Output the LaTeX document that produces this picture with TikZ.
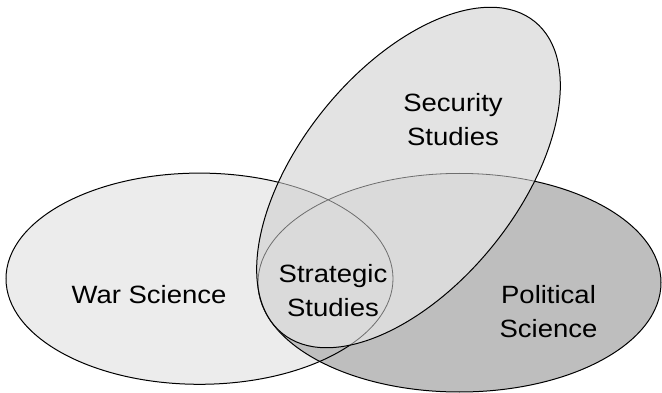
\documentclass[tikz,border=0pt]{standalone}
\usepackage{fontspec}
\setmainfont{Liberation Sans}[FakeStretch=1.1]
\definecolor{warfill}{HTML}{ECECEC}
\definecolor{polfill}{HTML}{BEBEBE}
\definecolor{secfill}{HTML}{E3E3E3}
\definecolor{secover}{HTML}{DADADA}
\definecolor{innerline}{HTML}{6E6E6E}
\begin{document}
\begin{tikzpicture}[x=1pt,y=-1pt,
  lbl/.style={font=\fontsize{25}{34}\selectfont, inner sep=0pt, align=center, text=black},
  outline/.style={draw=black, line width=1pt},
  hidden/.style={draw=innerline, line width=0.8pt},
  secrot/.style={rotate around={51:(408.5,177.5)}}]
\useasboundingbox (0,0) rectangle (662,393);
\def\warshape{(199.5,278.7) ellipse [x radius=193.5, y radius=105.6]}
\def\polshape{(459.5,282.7) ellipse [x radius=201.5, y radius=109.3]}
\def\secshape{(408.5,177.5) ellipse [x radius=200.6, y radius=108.5]}
% war and political
\fill[warfill] \warshape;
\fill[polfill] \polshape;
\draw[outline] \warshape;
\draw[outline] \polshape;
% security on top
\fill[secfill, secrot] \secshape;
\begin{scope}
  \clip[secrot] \secshape;
  \fill[secover] \warshape;
  \fill[secover] \polshape;
  \draw[hidden] \warshape;
  \draw[hidden] \polshape;
\end{scope}
\draw[outline, secrot] \secshape;
% labels
\node[lbl, anchor=base] (war) at (149,303.5) {War Science};
\node[lbl, anchor=north] (sec) at (453,93.5) {Security\\Studies};
\node[lbl, anchor=north] (strat) at (333,263.8) {Strategic\\Studies};
\node[lbl, anchor=north] (pol) at (548.5,285.4) {Political\\Science};
\end{tikzpicture}
\end{document}
